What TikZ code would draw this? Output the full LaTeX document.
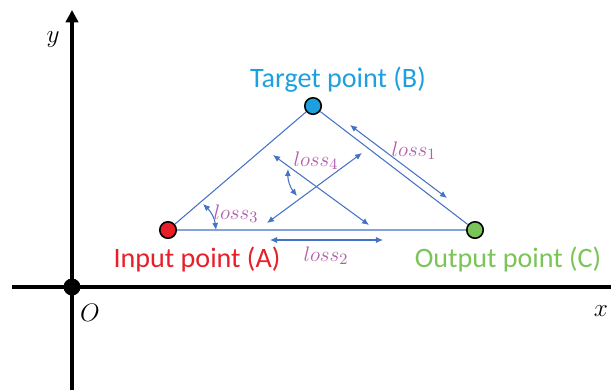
\documentclass[tikz,border=0pt]{standalone}
\usepackage{fontspec}
\setmainfont{Carlito}
\usetikzlibrary{arrows.meta}
\definecolor{lineblue}{RGB}{68,114,196}
\definecolor{ptblue}{RGB}{30,160,222}
\definecolor{ptred}{RGB}{232,30,40}
\definecolor{ptgreen}{RGB}{122,196,88}
\definecolor{losscol}{RGB}{178,92,170}
\begin{document}
\begin{tikzpicture}[x=0.02cm, y=-0.02cm,
  pt/.style={circle, draw=black, line width=0.9pt, minimum size=0.33cm, inner sep=0pt},
  ptlabel/.style={font=\fontsize{16}{18}\selectfont},
  loss/.style={text=losscol, font=\fontsize{12.5}{14}\selectfont},
  axlabel/.style={font=\fontsize{15}{17}\selectfont},
  conn/.style={draw=lineblue, line width=0.6pt},
  twoway/.style={conn, {Latex[length=4pt,width=3.5pt]}-{Latex[length=4pt,width=3.5pt]}}]
\useasboundingbox (0,0) rectangle (611,390);
% axes
\coordinate (xl) at (12,287);
\coordinate (xr) at (611,287);
\coordinate (yb) at (72,390);
\coordinate (yt) at (72,10);
\draw[line width=1.8pt] (xl) -- (xr);
\draw[line width=1.8pt, -{Triangle[length=7pt,width=7pt]}] (yb) -- (yt);
\node[circle, fill=black, minimum size=0.34cm, inner sep=0pt] (O) at (72,287) {};
\node[axlabel] (olab) at (90,313) {$O$};
\node[axlabel] (xlab) at (601,311) {$x$};
\node[axlabel] (ylab) at (53,40) {$y$};
% points
\node[pt, fill=ptred] (A) at (168,230) {};
\node[pt, fill=ptblue] (B) at (313,106) {};
\node[pt, fill=ptgreen] (C) at (475,230) {};
\node[ptlabel, text=ptblue] (Blab) at (338,80) {Target point (B)};
\node[ptlabel, text=ptred] (Alab) at (197,259) {Input point (A)};
\node[ptlabel, text=ptgreen] (Clab) at (508,259) {Output point (C)};
\draw[conn] (A) -- (B) -- (C) -- (A);
% loss arrows
\coordinate (l1a) at (350,125);
\coordinate (l1b) at (447,198);
\coordinate (l2a) at (270,240);
\coordinate (l2b) at (383,240);
\coordinate (c1a) at (267,223);
\coordinate (c1b) at (362,153);
\coordinate (c2a) at (273,155);
\coordinate (c2b) at (369,225);
\coordinate (l3a) at (203,204);
\coordinate (l3b) at (216,230);
\coordinate (l4a) at (288,169);
\coordinate (l4b) at (297,196);
\draw[twoway] (l1a) -- (l1b);
\draw[twoway] (l2a) -- (l2b);
\draw[twoway] (c1a) -- (c1b);
\draw[twoway] (c2a) -- (c2b);
\draw[twoway] (l3a) to[bend left=20] (l3b);
\draw[twoway] (l4a) to[bend right=20] (l4b);
\node[loss] (loss1) at (414,151) {$loss_1$};
\node[loss] (loss2) at (326,256) {$loss_2$};
\node[loss] (loss3) at (236,214) {$loss_3$};
\node[loss] (loss4) at (316,161) {$loss_4$};
\end{tikzpicture}
\end{document}
